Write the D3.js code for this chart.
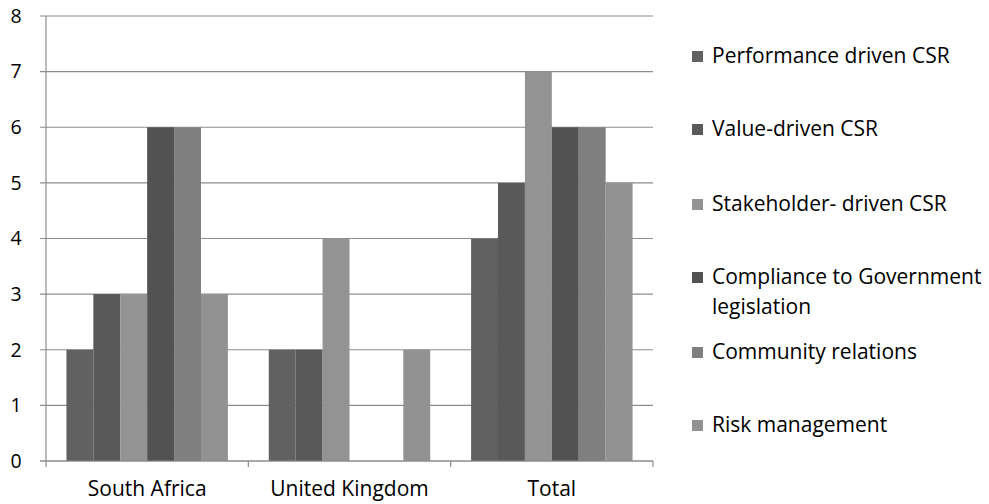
<!DOCTYPE html>
<html><head><meta charset="utf-8">
<script src="https://cdn.jsdelivr.net/npm/d3@7/dist/d3.min.js"></script>
<style>body{margin:0;background:#fff}svg{display:block}text{font-family:"Open Sans",sans-serif;fill:#000}</style>
</head><body>
<svg id="c" width="989" height="504"></svg>
<script>
const categories = ["South Africa", "United Kingdom", "Total"];
const seriesNames = ["Performance driven CSR", "Value-driven CSR", "Stakeholder- driven CSR", "Compliance to Government legislation", "Community relations", "Risk management"];
const seriesColors = ["#616161", "#595959", "#939393", "#525252", "#7f7f7f", "#929292"];
const performance = [2, 2, 4];
const valueDriven = [3, 2, 5];
const stakeholder = [3, 4, 7];
const compliance = [6, 0, 6];
const community = [6, 0, 6];
const risk = [3, 2, 5];
const yTicks = [0, 1, 2, 3, 4, 5, 6, 7, 8];
const series = [performance, valueDriven, stakeholder, compliance, community, risk];

const svg = d3.select("#c");
const L = 46, R = 653, T = 16, B = 461;
const x0 = d3.scaleBand().domain(categories).range([L, R]).padding(0);
const gw = x0.bandwidth();
const x1 = d3.scaleBand().domain(d3.range(series.length)).range([gw * 0.101, gw * 0.899]).padding(0);
const y = d3.scaleLinear().domain([0, 8]).range([B, T]);

// gridlines
svg.append("g").selectAll("line").data(yTicks).join("line")
  .attr("x1", L - 6).attr("x2", R).attr("y1", d => y(d)).attr("y2", d => y(d))
  .attr("stroke", "#8c8c8c").attr("stroke-width", 1.2);

// bars
const g = svg.append("g");
categories.forEach((c, ci) => {
  series.forEach((s, si) => {
    if (s[ci] <= 0) return;
    g.append("rect")
      .attr("x", x0(c) + x1(si)).attr("width", x1.bandwidth())
      .attr("y", y(s[ci])).attr("height", y(0) - y(s[ci]))
      .attr("fill", seriesColors[si]);
  });
});

// y axis
const ya = svg.append("g").attr("transform", `translate(${L},0)`)
  .call(d3.axisLeft(y).tickValues(yTicks).tickSize(6).tickPadding(18).tickFormat(d3.format("d")));
ya.select(".domain").attr("stroke", "#8c8c8c").attr("stroke-width", 1.2).attr("d", `M0,${T}V${B}`);
ya.selectAll(".tick line").remove();
ya.selectAll("text").style("font-size", "19.5px").attr("fill", "#000").attr("text-anchor", "middle").attr("x", -30);

// x axis
const xa = svg.append("g").attr("transform", `translate(0,${B})`)
  .call(d3.axisBottom(x0).tickSize(0).tickPadding(20));
xa.select(".domain").attr("stroke", "#8c8c8c").attr("stroke-width", 1.2).attr("d", `M${L - 6},0H${R}`);
xa.selectAll("text").style("font-size", "21px").attr("fill", "#000");
svg.append("g").selectAll("line").data(d3.range(categories.length + 1)).join("line")
  .attr("x1", i => L + i * gw).attr("x2", i => L + i * gw)
  .attr("y1", B).attr("y2", B + 6).attr("stroke", "#8c8c8c").attr("stroke-width", 1.2);

// legend
const legendY = [56, 129, 204, 277, 352, 425];
const lg = svg.append("g");
const fs = "21px";
seriesNames.forEach((n, i) => {
  lg.append("rect").attr("x", 692).attr("y", legendY[i] - 5).attr("width", 11).attr("height", 11).attr("fill", seriesColors[i]);
  if (i === 3) {
    lg.append("text").attr("x", 712).attr("y", legendY[i] + 7).style("font-size", fs).text("Compliance to Government");
    lg.append("text").attr("x", 712).attr("y", legendY[i] + 37).style("font-size", fs).text("legislation");
  } else {
    lg.append("text").attr("x", 712).attr("y", legendY[i] + 7).style("font-size", fs).text(n);
  }
});
</script>
</body></html>
